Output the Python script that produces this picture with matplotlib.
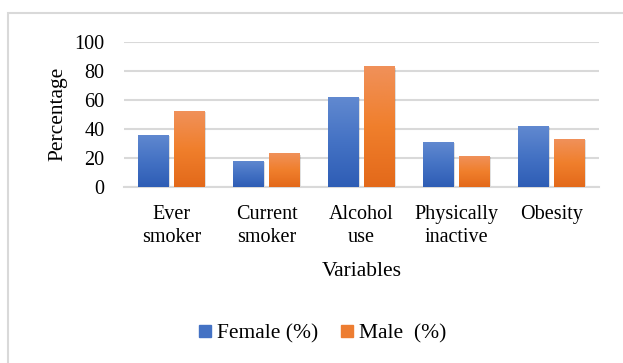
import matplotlib
matplotlib.use("Agg")
import matplotlib.pyplot as plt
import matplotlib.patches as patches
from matplotlib.colors import LinearSegmentedColormap
import numpy as np

categories = ["Ever\nsmoker", "Current\nsmoker", "Alcohol\nuse", "Physically\ninactive", "Obesity"]
female = [36, 18, 62, 31, 42]
male = [52, 23, 83, 21, 33]
series_names = ["Female (%)", "Male  (%)"]
yticks = [0, 20, 40, 60, 80, 100]

plt.rcParams["font.family"] = ["Liberation Serif", "DejaVu Serif"]
plt.rcParams["font.size"] = 14.5

fig = plt.figure(figsize=(6.23, 3.63), dpi=100)
ax = fig.add_axes([124 / 623, 1 - 186.7 / 363, 475 / 623, 145 / 363])

# light frame around the chart area (cut off on right and bottom like the source)
fig.patches.append(
    patches.Rectangle((7.5 / 623, -0.05), 1.0, 1 - 12.5 / 363 + 0.05, transform=fig.transFigure,
                      fill=False, edgecolor="#d9d9d9", linewidth=1.5)
)

x = np.arange(len(categories))
width = 0.32
offset = 0.19

# gradients: lighter top, darker bottom (Excel style)
blue_cmap = LinearSegmentedColormap.from_list("b", ["#2e5db5", "#4472c4", "#6189d0"])
orange_cmap = LinearSegmentedColormap.from_list("o", ["#e3691a", "#f07f2c", "#f0915a"])
grad = np.linspace(0, 1, 256).reshape(-1, 1)

for vals, dx, cmap, base, name in [
    (female, -offset, blue_cmap, "#4472c4", series_names[0]),
    (male, offset, orange_cmap, "#ed7d31", series_names[1]),
]:
    # soft shadow
    ax.bar(x + dx + 0.012, vals, width, bottom=-0.8, color="#000000", alpha=0.12, zorder=2)
    bars = ax.bar(x + dx, vals, width, color=base, label=name, zorder=3)
    for b in bars:
        bx, by = b.get_x(), b.get_y()
        bw, bh = b.get_width(), b.get_height()
        im = ax.imshow(grad, cmap=cmap, origin="lower", aspect="auto",
                       extent=(bx, bx + bw, by, by + bh), zorder=4)
        im.set_clip_path(b)

ax.set_xlim(-0.5, len(categories) - 0.5)
ax.set_ylim(0, 100)
ax.set_yticks(yticks)
ax.set_xticks(x)
ax.set_xticklabels(categories, linespacing=1.3)
ax.yaxis.grid(True, color="#d9d9d9", linewidth=1.5, zorder=0)
ax.set_axisbelow(True)
for s in ["top", "right", "left"]:
    ax.spines[s].set_visible(False)
ax.spines["bottom"].set_color("#d9d9d9")
ax.spines["bottom"].set_linewidth(1.5)
ax.tick_params(axis="both", length=0, labelsize=14.5)
ax.tick_params(axis="y", pad=14)
ax.tick_params(axis="x", pad=13)

ax.set_ylabel("Percentage", fontsize=15.5, labelpad=5)
ax.set_xlabel("Variables", fontsize=15.5, labelpad=11)

handles = [patches.Patch(color="#4472c4"), patches.Patch(color="#ed7d31")]
fig.legend(handles, series_names, loc="center", bbox_to_anchor=(0.518, 1 - 334 / 363), ncol=2,
           frameon=False, fontsize=15.5, handlelength=0.55, handleheight=0.55, handletextpad=0.3,
           columnspacing=1.05)

fig.savefig("out.png", dpi=100)
